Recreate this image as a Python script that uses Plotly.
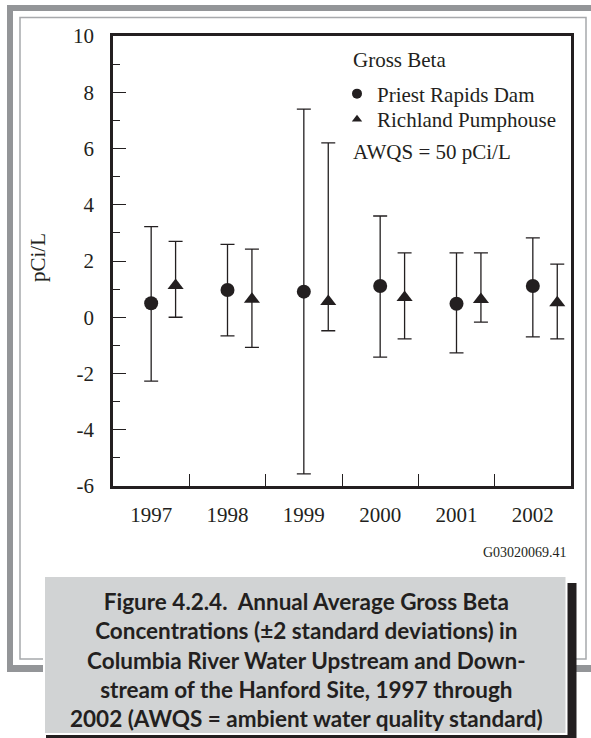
import plotly.graph_objects as go

# ---------------- data ----------------
years = [1997, 1998, 1999, 2000, 2001, 2002]
year_labels = ["1997", "1998", "1999", "2000", "2001", "2002"]

priest_mean = [0.50, 0.97, 0.91, 1.11, 0.48, 1.11]
priest_upper = [3.22, 2.59, 7.40, 3.60, 2.29, 2.82]
priest_lower = [-2.27, -0.66, -5.57, -1.42, -1.27, -0.70]

rich_mean = [1.13, 0.64, 0.56, 0.70, 0.63, 0.52]
rich_upper = [2.70, 2.42, 6.20, 2.29, 2.29, 1.89]
rich_lower = [0.00, -1.07, -0.48, -0.77, -0.17, -0.77]

y_ticks = [-6, -4, -2, 0, 2, 4, 6, 8, 10]
y_tick_labels = ["-6", "-4", "-2", "0", "2", "4", "6", "8", "10"]
boundaries = [1997.5, 1998.5, 1999.5, 2000.5, 2001.5]

rich_offset = 0.32

INK = "#231f20"
SERIF = "Liberation Serif, Times New Roman, serif"
SANS = "Lato, Noto Sans, sans-serif"

W, H = 591, 738
L, R, T, B = 113, 571, 36, 486


def px(x):
    return (x - L) / (R - L)


def py(y):
    return (B - y) / (B - T)


fig = go.Figure()

fig.add_trace(go.Scatter(
    x=years, y=priest_mean, mode="markers", showlegend=False,
    marker=dict(symbol="circle", size=14, color=INK),
    error_y=dict(type="data", symmetric=False,
                 array=[u - m for u, m in zip(priest_upper, priest_mean)],
                 arrayminus=[m - l for m, l in zip(priest_mean, priest_lower)],
                 color=INK, thickness=1.3, width=7),
))
fig.add_trace(go.Scatter(
    x=[y + rich_offset for y in years], y=rich_mean, mode="markers", showlegend=False,
    marker=dict(symbol="triangle-up", size=14, color=INK),
    error_y=dict(type="data", symmetric=False,
                 array=[u - m for u, m in zip(rich_upper, rich_mean)],
                 arrayminus=[m - l for m, l in zip(rich_mean, rich_lower)],
                 color=INK, thickness=1.3, width=7),
))
# legend entries (one legend per entry for exact placement)
fig.add_trace(go.Scatter(x=[None], y=[None], mode="markers", name="Priest Rapids Dam",
                         legend="legend",
                         marker=dict(symbol="circle", size=10, color=INK)))
fig.add_trace(go.Scatter(x=[None], y=[None], mode="markers", name="Richland Pumphouse",
                         legend="legend2",
                         marker=dict(symbol="triangle-up", size=9, color=INK)))

shapes = [
    dict(type="rect", x0=px(7), x1=px(600), y0=py(5), y1=py(672),
         fillcolor="#939598", line=dict(width=0)),
    dict(type="rect", x0=px(13), x1=px(600), y0=py(11), y1=py(665),
         fillcolor="white", line=dict(width=0)),
    dict(type="rect", x0=px(20), x1=px(586), y0=py(17.5), y1=py(659),
         fillcolor="rgba(0,0,0,0)", line=dict(color="#a7a9ac", width=1.5)),
    dict(type="rect", x0=px(46), x1=px(576.5), y0=py(583), y1=py(745),
         fillcolor=INK, line=dict(width=0)),
    dict(type="rect", x0=px(43), x1=px(567.5), y0=py(575), y1=py(735),
         fillcolor="white", line=dict(width=0)),
    dict(type="rect", x0=px(45), x1=px(565.5), y0=py(577), y1=py(733),
         fillcolor="#d1d3d4", line=dict(width=0)),
]
for s in shapes:
    s.update(xref="paper", yref="paper", layer="below")

annotations = [
    dict(text="pCi/L", x=px(38), y=py(258), textangle=-90,
         font=dict(family=SERIF, size=21, color=INK)),
    dict(text="Gross Beta", x=px(351), y=py(60), xanchor="left",
         font=dict(family=SERIF, size=21, color=INK)),
    dict(text="AWQS = 50 pCi/L", x=px(351), y=py(151.5), xanchor="left",
         font=dict(family=SERIF, size=21, color=INK)),
    dict(text="G03020069.41", x=px(569), y=py(552), xanchor="right",
         font=dict(family=SERIF, size=14, color=INK)),
    dict(text="Figure 4.2.4.  Annual Average Gross Beta<br>"
              "Concentrations (±2 standard deviations) in<br>"
              "Columbia River Water Upstream and Down-<br>"
              "stream of the Hanford Site, 1997 through<br>"
              "2002 (AWQS = ambient water quality standard)",
         x=px(306), y=py(660), align="center",
         font=dict(family=SANS, size=22.5, color=INK, weight="bold")),
]
for a in annotations:
    a.update(xref="paper", yref="paper", showarrow=False)
    a.setdefault("xanchor", "center")
    a.setdefault("yanchor", "middle")

legend_common = dict(xanchor="left", yanchor="middle", bgcolor="rgba(0,0,0,0)",
                     borderwidth=0, itemwidth=30,
                     font=dict(family=SERIF, size=21, color=INK))

fig.update_layout(
    width=W, height=H, autosize=False,
    margin=dict(l=L, r=W - R, t=T, b=H - B, pad=0),
    paper_bgcolor="white", plot_bgcolor="rgba(0,0,0,0)",
    font=dict(family=SERIF, color=INK),
    shapes=shapes, annotations=annotations,
    showlegend=True,
    legend=dict(x=px(337), y=py(94), **legend_common),
    legend2=dict(x=px(337), y=py(119.5), **legend_common),
    xaxis=dict(range=[1996.5, 2002.5], tickmode="array", tickvals=years,
               ticktext=year_labels, ticks="", ticklabelstandoff=8,
               tickfont=dict(family=SERIF, size=21, color=INK),
               showline=True, linewidth=2.5, linecolor=INK, mirror=True,
               showgrid=False, zeroline=False, fixedrange=True,
               minor=dict(tickmode="array", tickvals=boundaries, ticks="inside",
                          ticklen=12, tickwidth=1.3, tickcolor=INK, showgrid=False)),
    yaxis=dict(range=[-6, 10], tickmode="array", tickvals=y_ticks,
               ticktext=y_tick_labels,
               ticks="inside", ticklen=13, tickwidth=1.3, tickcolor=INK,
               ticklabelstandoff=12,
               tickfont=dict(family=SERIF, size=21, color=INK),
               showline=True, linewidth=2.5, linecolor=INK, mirror=True,
               showgrid=False, zeroline=False, fixedrange=True,
               minor=dict(dtick=1, ticks="inside", ticklen=7, tickwidth=1.3,
                          tickcolor=INK, showgrid=False)),
)

fig.write_html("out.html", config={"displayModeBar": False},
               post_script="document.body.style.margin='0';document.body.style.overflow='hidden';")
